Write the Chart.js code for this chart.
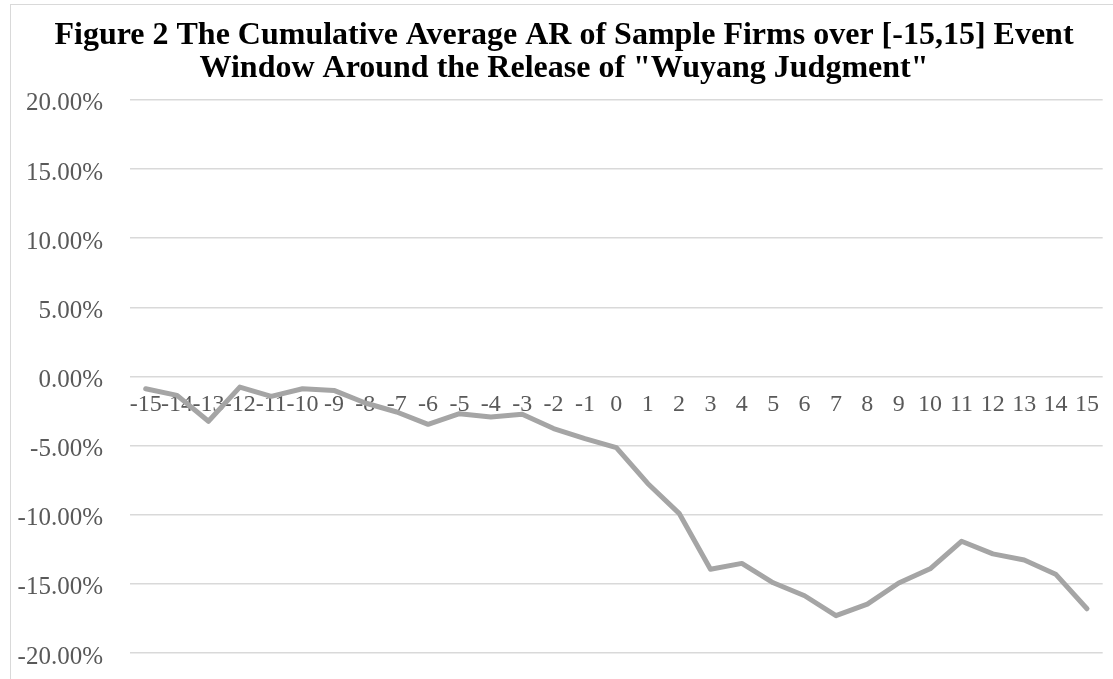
<!DOCTYPE html>
<html>
<head>
<meta charset="utf-8">
<title>Cumulative Average AR</title>
<script src="https://cdn.jsdelivr.net/npm/chart.js@4.4.1/dist/chart.umd.min.js"></script>
<style>
  html, body { margin: 0; padding: 0; background: #ffffff; overflow: hidden; }
  #wrap { position: relative; width: 1113px; height: 679px; }
  #frame {
    position: absolute; left: 10px; top: 4px; width: 2000px; height: 2000px;
    border-left: 1.5px solid #d9d9d9; border-top: 1.5px solid #d9d9d9;
  }
  canvas { position: absolute; left: 0; top: 0; }
</style>
</head>
<body>
<div id="wrap">
  <div id="frame"></div>
  <canvas id="chart" width="1113" height="679"></canvas>
</div>
<script>
// Event days relative to the release date
const eventDays = ['-15','-14','-13','-12','-11','-10','-9','-8','-7','-6','-5','-4','-3','-2','-1',
                   '0','1','2','3','4','5','6','7','8','9','10','11','12','13','14','15'];

// Cumulative average abnormal return of the sample firms, in percent
const cumulativeAR = [-0.89, -1.37, -3.24, -0.77, -1.44, -0.89, -1.01, -1.92, -2.57, -3.46,
                      -2.69, -2.93, -2.74, -3.77, -4.49, -5.14, -7.74, -9.90, -13.94, -13.52,
                      -14.92, -15.86, -17.30, -16.46, -14.94, -13.91, -11.92, -12.83, -13.27, -14.30,
                      -16.80];

// Value axis range and step, in percent
const yMin = -20;
const yMax = 20;
const yStep = 5;

const titleLines = ['Figure 2 The Cumulative Average AR of Sample Firms over [-15,15] Event',
                    'Window Around the Release of "Wuyang Judgment"'];

const tickColor = '#595959';
const gridColor = '#d9d9d9';

new Chart(document.getElementById('chart'), {
  type: 'line',
  data: {
    labels: eventDays,
    datasets: [{
      label: 'CAR',
      data: cumulativeAR,
      borderColor: '#a5a5a5',
      backgroundColor: '#a5a5a5',
      borderWidth: 5,
      pointRadius: 0,
      pointHoverRadius: 0,
      tension: 0,
      borderJoinStyle: 'round',
      borderCapStyle: 'round',
      fill: false
    }]
  },
  options: {
    responsive: false,
    animation: false,
    events: [],
    layout: { padding: { left: 15, right: 0, top: 0, bottom: 26 } },
    plugins: {
      legend: { display: false },
      tooltip: { enabled: false },
      title: {
        display: true,
        text: titleLines,
        color: '#000000',
        font: { family: '"Liberation Serif", "Times New Roman", serif', size: 32, weight: 'bold', lineHeight: 1.03 },
        padding: { top: 19, bottom: 15 }
      }
    },
    scales: {
      x: {
        type: 'category',
        position: { y: 0 },
        offset: true,
        grid: { display: false, drawTicks: false },
        border: { display: false },
        ticks: {
          color: tickColor,
          font: { family: '"Liberation Serif", "Times New Roman", serif', size: 24 },
          padding: 14,
          maxRotation: 0,
          minRotation: 0,
          autoSkip: false
        },
        afterFit: (scale) => { scale.height = 0; }
      },
      y: {
        min: yMin,
        max: yMax,
        grid: { color: gridColor, lineWidth: 1.5, drawTicks: false },
        border: { display: false },
        ticks: {
          stepSize: yStep,
          color: tickColor,
          font: { family: '"Liberation Serif", "Times New Roman", serif', size: 25 },
          padding: 27,
          labelOffset: 4,
          callback: (v) => v.toFixed(2) + '%'
        },
        afterFit: (scale) => {
          // fixed axis width; the layout padding alone sets the plot's top and bottom
          scale.width = 115;
          scale.paddingTop = 0;
          scale.paddingBottom = 0;
        }
      }
    }
  }
});
</script>
</body>
</html>
